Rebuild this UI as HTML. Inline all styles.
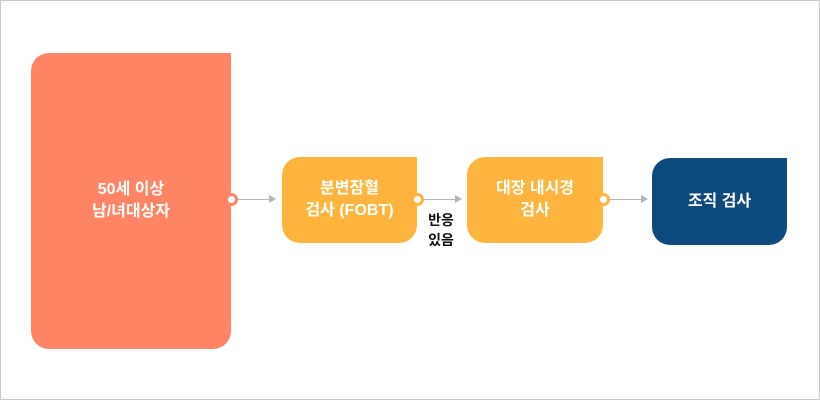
<!DOCTYPE html>
<html><head><meta charset="utf-8"><style>
*{margin:0;padding:0;box-sizing:border-box}
body{width:820px;height:400px;background:#fff;position:relative;overflow:hidden;font-family:"Liberation Sans","Noto Sans CJK KR",sans-serif}
.frame{position:absolute;left:0;top:0;width:820px;height:400px;border:1px solid #c8c8c8}
.b{position:absolute;color:#fff;font-weight:bold;font-size:16px;line-height:22px;display:flex;align-items:center;justify-content:center;text-align:center}
.dot{position:absolute;width:13px;height:13px;border-radius:50%;background:#fff;border:3px solid}
.ln{position:absolute;height:1px;background:#b5b5b5}
.ar{position:absolute;width:0;height:0;border-top:4px solid transparent;border-bottom:4px solid transparent;border-left:7px solid #b5b5b5}
</style></head><body>
<div class="frame"></div>
<div class="b" style="left:31px;top:53px;width:200px;height:296px;background:#ff8463;border-radius:18px 0 18px 18px">50세 이상<br>남/녀대상자</div>
<div class="b" style="left:282px;top:157px;width:135px;height:86px;background:#ffb43e;border-radius:18px 0 18px 18px">분변잠혈<br>검사 (FOBT)</div>
<div class="b" style="left:467px;top:157px;width:136px;height:86px;background:#ffb43e;border-radius:18px 0 18px 18px">대장 내시경<br>검사</div>
<div class="b" style="left:652px;top:158px;width:135px;height:87px;background:#0d4a7e;border-radius:18px 0 18px 18px">조직 검사</div>
<div class="ln" style="left:236px;top:199px;width:36px"></div><div class="ar" style="left:269px;top:195px"></div>
<div class="ln" style="left:422px;top:199px;width:36px"></div><div class="ar" style="left:455px;top:195px"></div>
<div class="ln" style="left:608px;top:199px;width:36px"></div><div class="ar" style="left:641px;top:195px"></div>
<div class="dot" style="left:225px;top:193px;border-color:#ff8463"></div>
<div class="dot" style="left:411px;top:193px;border-color:#ffb43e"></div>
<div class="dot" style="left:597px;top:193px;border-color:#ffb43e"></div>
<div style="position:absolute;left:420px;top:210px;width:42px;text-align:center;font-size:14px;font-weight:bold;line-height:20px;color:#111">반응<br>있음</div>
</body></html>
